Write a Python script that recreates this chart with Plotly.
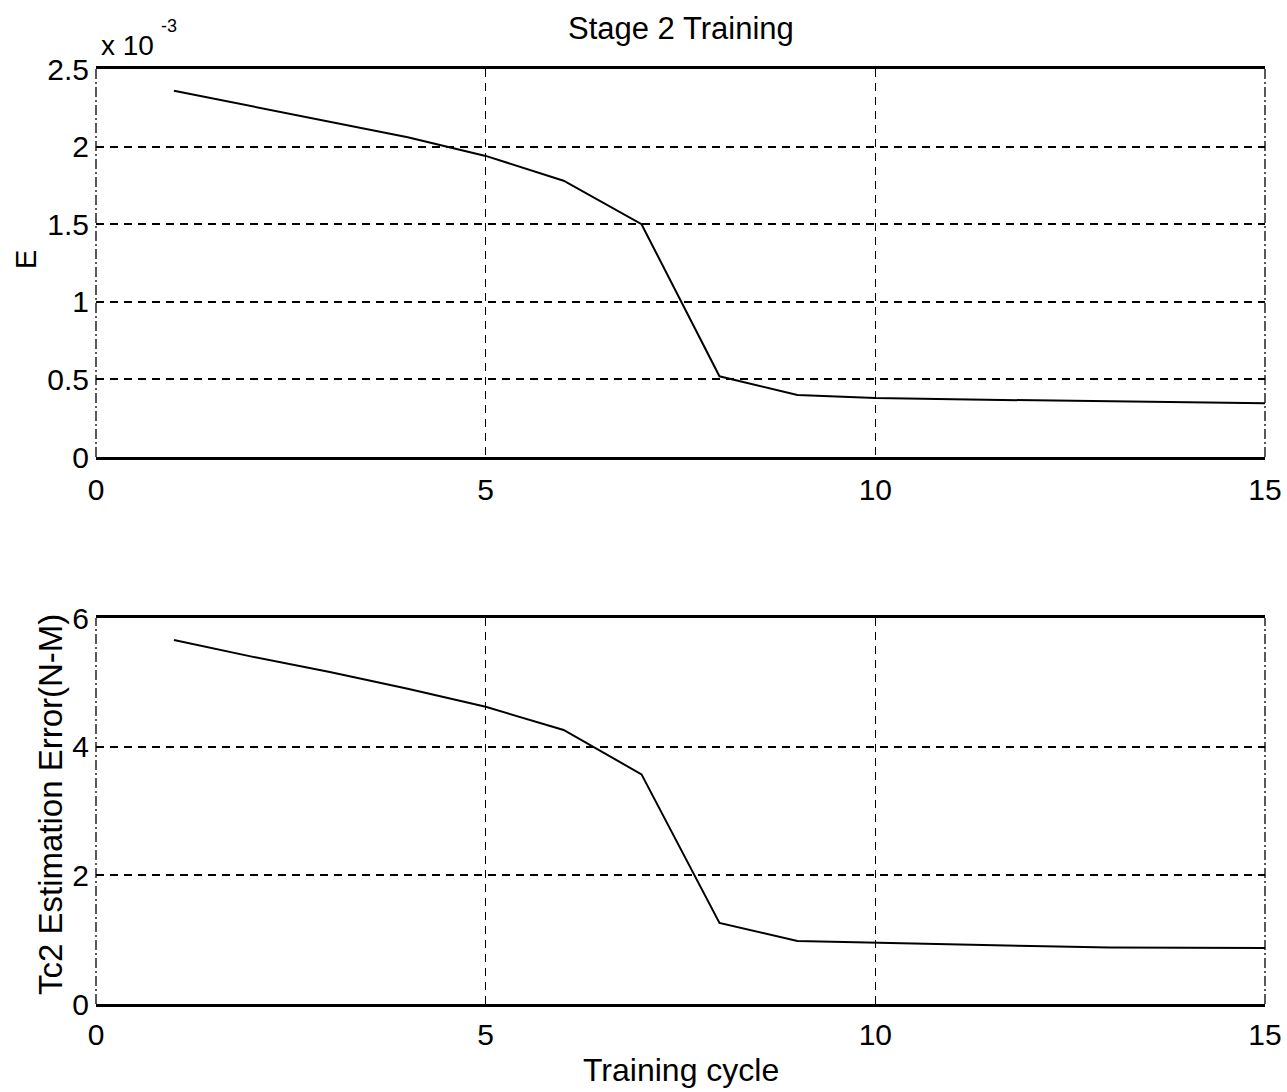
import plotly.graph_objects as go

# Data
cycles = [1, 2, 3, 4, 5, 6, 7, 8, 9, 10, 11, 12, 13, 14, 15]
E_values = [2.36e-3, 2.26e-3, 2.16e-3, 2.06e-3, 1.94e-3, 1.78e-3, 1.50e-3, 0.52e-3,
            0.40e-3, 0.38e-3, 0.372e-3, 0.365e-3, 0.358e-3, 0.352e-3, 0.346e-3]
tc2_error = [5.66, 5.40, 5.16, 4.90, 4.62, 4.26, 3.57, 1.26, 0.98, 0.95, 0.92, 0.90, 0.88, 0.875, 0.87]

x_ticks = [0, 5, 10, 15]
E_tickvals = [0, 0.5e-3, 1.0e-3, 1.5e-3, 2.0e-3, 2.5e-3]
E_ticktext = ["0", "0.5", "1", "1.5", "2", "2.5"]
tc_ticks = [0, 2, 4, 6]

FONT = "Liberation Sans, Arial, sans-serif"
TICKFONT = dict(size=30, color="black", family=FONT)

fig = go.Figure()
fig.add_trace(go.Scatter(x=cycles, y=E_values, mode="lines",
                         line=dict(color="black", width=2), xaxis="x", yaxis="y",
                         showlegend=False))
fig.add_trace(go.Scatter(x=cycles, y=tc2_error, mode="lines",
                         line=dict(color="black", width=2), xaxis="x2", yaxis="y2",
                         showlegend=False))

xcommon = dict(range=[0, 15], tickvals=x_ticks, showgrid=True, gridcolor="black",
               griddash="8px,6px", gridwidth=1.3, showline=True, linecolor="black",
               linewidth=2.5, mirror=True, zeroline=False, ticks="",
               ticklabeloverflow="allow", automargin=False, tickfont=TICKFONT)
ycommon = dict(showgrid=True, gridcolor="black", griddash="8px,6px", gridwidth=1.6,
               showline=False, zeroline=False, ticks="", ticklabelstandoff=6,
               automargin=False, tickfont=TICKFONT)

# left / right borders drawn as thin dash-dot lines (as in the scanned figure)
border_shapes = []
for xr, yr in (("x", "y"), ("x2", "y2")):
    for xv in (0, 1):
        border_shapes.append(dict(type="line", xref=f"{xr} domain", yref=f"{yr} domain",
                                  x0=xv, x1=xv, y0=0, y1=1,
                                  line=dict(color="black", width=1.3, dash="10px,3px,2px,3px")))

fig.update_layout(
    width=1287, height=1092,
    margin=dict(l=96, r=22, t=69, b=88),
    paper_bgcolor="white", plot_bgcolor="white",
    font=dict(family=FONT, color="black", size=30),
    xaxis=dict(domain=[0, 1], anchor="y", ticklabelstandoff=4, **xcommon),
    yaxis=dict(domain=[0.585, 1], anchor="x", range=[0, 2.5e-3],
               tickvals=E_tickvals, ticktext=E_ticktext, **ycommon),
    xaxis2=dict(domain=[0, 1], anchor="y2", ticklabelstandoff=2, **xcommon),
    yaxis2=dict(domain=[0, 0.4128], anchor="x2", range=[0, 6],
                tickvals=tc_ticks, **ycommon),
    shapes=border_shapes,
    annotations=[
        dict(text="Stage 2 Training", x=0.5, y=1, xref="paper", yref="paper",
             xanchor="center", yanchor="middle", yshift=41, showarrow=False,
             font=dict(size=31)),
        dict(text="x 10", x=0, y=1, xref="paper", yref="paper",
             xanchor="left", yanchor="middle", xshift=3, yshift=24, showarrow=False,
             font=dict(size=28)),
        dict(text="-3", x=0, y=1, xref="paper", yref="paper",
             xanchor="left", yanchor="middle", xshift=63, yshift=43, showarrow=False,
             font=dict(size=18)),
        dict(text="E", x=0, y=0.7957, xref="paper", yref="paper", textangle=-90,
             xanchor="center", yanchor="middle", xshift=-70, showarrow=False,
             font=dict(size=29)),
        dict(text="Tc2 Estimation Error(N-M)", x=0, y=0.2128, xref="paper", yref="paper",
             textangle=-90, xanchor="center", yanchor="middle", xshift=-46,
             showarrow=False, font=dict(size=33)),
        dict(text="Training cycle", x=0.5, y=0, xref="paper", yref="paper",
             xanchor="center", yanchor="top", yshift=-46, showarrow=False,
             font=dict(size=32)),
    ],
)

fig.write_html("out.html", config={"displayModeBar": False},
               post_script="document.body.style.margin='0';")
